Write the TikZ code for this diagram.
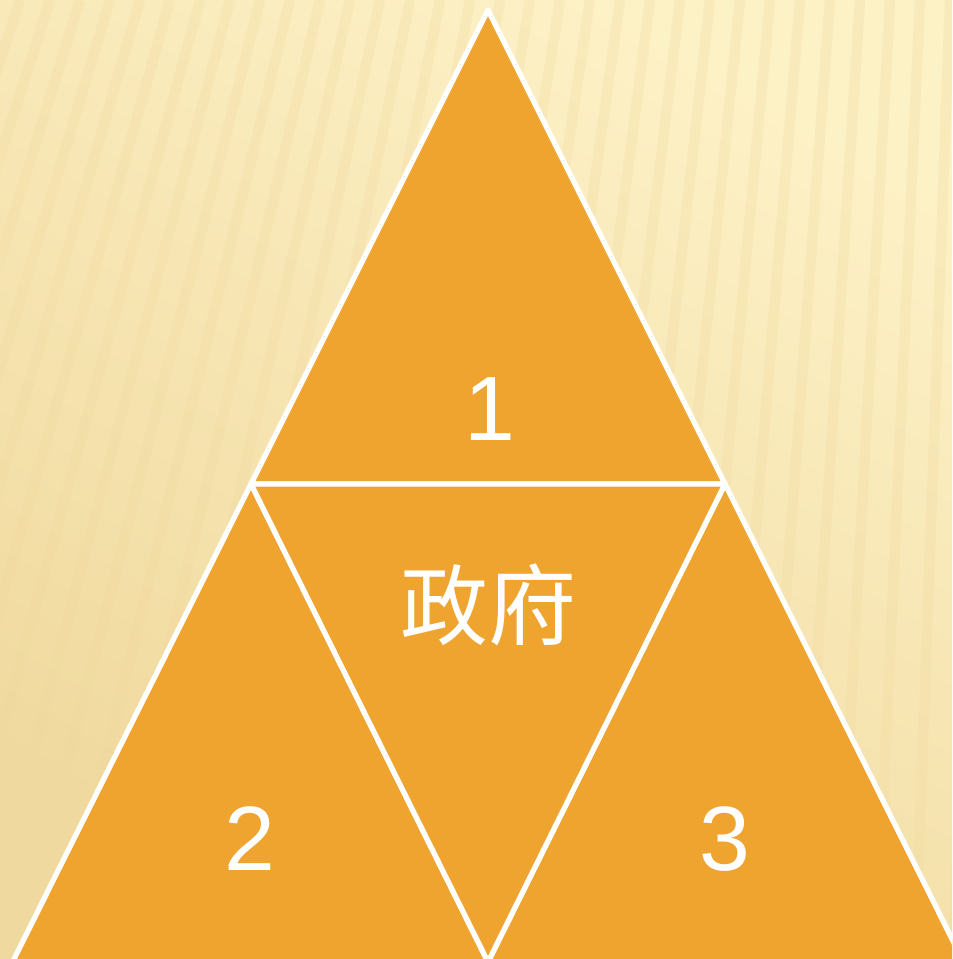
\documentclass[tikz,border=0pt]{standalone}
\usepackage{fontspec}
\setmainfont{Liberation Sans}
\newfontfamily\cjkfont{Noto Sans CJK SC}
\usepackage{xcolor}
\usepackage{tikz}
\usetikzlibrary{positioning}
\definecolor{bgLight}{HTML}{FDF1C6}
\definecolor{bgDark}{HTML}{F0D99E}
\definecolor{pieceOrange}{HTML}{EFA430}
\tikzset{
  piece/.style={fill=pieceOrange, draw=white, line width=1.5pt, line join=round},
  stripe/.style={draw=bgDark, line width=3pt, opacity=0.25},
  numlabel/.style={text=white, font=\fontsize{26}{30}\selectfont},
  govlabel/.style={text=white, font=\cjkfont\fontsize{25}{30}\selectfont},
}

\begin{document}
\begin{tikzpicture}

  %% Frame and background
  \useasboundingbox (0,0) rectangle (9.52,9.59);
  \clip (0,0) rectangle (9.52,9.59);
  \shade[top color=bgLight, bottom color=bgDark, shading angle=-30]
    (0,0) rectangle (9.52,9.59);
  \foreach \t in {0.2,0.5,...,12.5}
    \draw[stripe] (\t,9.59) -- ({\t-3.2+0.3*\t},0);

  %% Corners of the big triangle
  \coordinate (top)  at (4.88,9.49);
  \coordinate (midL) at (2.51,4.75);
  \coordinate (midR) at (7.25,4.75);
  \coordinate (botL) at (0.125,-0.03);
  \coordinate (botM) at (4.88,-0.03);
  \coordinate (botR) at (9.635,-0.03);

  %% Four pieces
  \draw[piece] (top)  -- (midL) -- (midR) -- cycle;
  \draw[piece] (midL) -- (botL) -- (botM) -- cycle;
  \draw[piece] (midR) -- (botM) -- (botR) -- cycle;
  \draw[piece] (midL) -- (midR) -- (botM) -- cycle;

  %% Labels
  \node[numlabel] (lab1) at (4.90,5.50) {1};
  \node[govlabel] (gov)  at (4.88,3.54) {政府};
  \node[numlabel] (lab2) at (2.50,1.20) {2};
  \node[numlabel] (lab3) at (7.25,1.20) {3};

\end{tikzpicture}
\end{document}
